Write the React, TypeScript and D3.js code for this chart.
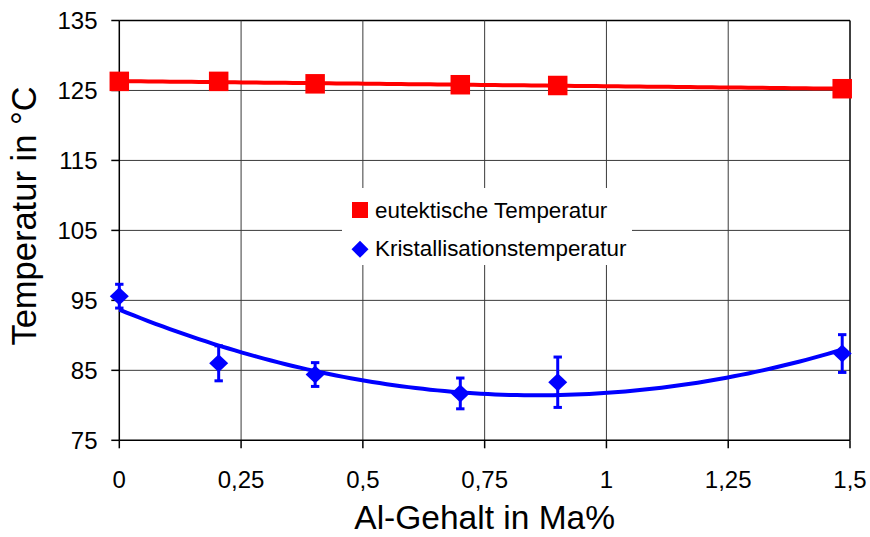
import React from "react";
import * as d3 from "d3";

const W = 870;
const H = 537;

const xTicks = [0, 0.25, 0.5, 0.75, 1, 1.25, 1.5];
const yTicks = [75, 85, 95, 105, 115, 125, 135];

const alContent = [0, 0.204, 0.402, 0.7, 0.9, 1.484];
const eutektisch = [126.3, 126.3, 125.95, 125.82, 125.71, 125.25];
const kristall = [95.6, 86.0, 84.4, 81.7, 83.3, 87.4];
const kristallErr = [1.7, 2.5, 1.7, 2.2, 3.6, 2.7];

const seriesNames = ["eutektische Temperatur", "Kristallisationstemperatur"];

const fmt = (v: number) => String(v).replace(".", ",");

// least-squares polynomial fit (Excel trendline)
function polyFit(xs: number[], ys: number[], deg: number): number[] {
  const n = deg + 1;
  const A: number[][] = [];
  for (let i = 0; i < n; i++) {
    const row: number[] = [];
    for (let j = 0; j < n; j++) row.push(d3.sum(xs, (x) => Math.pow(x, i + j)));
    row.push(d3.sum(xs, (x, k) => Math.pow(x, i) * ys[k]));
    A.push(row);
  }
  for (let i = 0; i < n; i++) {
    let p = i;
    for (let r = i + 1; r < n; r++) if (Math.abs(A[r][i]) > Math.abs(A[p][i])) p = r;
    [A[i], A[p]] = [A[p], A[i]];
    for (let r = 0; r < n; r++) {
      if (r === i) continue;
      const f = A[r][i] / A[i][i];
      for (let c = i; c <= n; c++) A[r][c] -= f * A[i][c];
    }
  }
  return A.map((row, i) => row[n] / row[i]);
}

export default function App() {
  const x = d3.scaleLinear().domain([0, 1.5]).range([119.3, 850]);
  const y = d3.scaleLinear().domain([75, 135]).range([440.3, 20.5]);

  const redCoef = polyFit(alContent, eutektisch, 1);
  const blueCoef = polyFit(alContent, kristall, 2);
  const evalP = (c: number[], v: number) => c.reduce((s, a, i) => s + a * Math.pow(v, i), 0);

  const xMin = d3.min(alContent)!;
  const xMax = d3.max(alContent)!;
  const samples = d3.range(0, 101).map((i) => xMin + ((xMax - xMin) * i) / 100);

  const line = d3
    .line<number[]>()
    .x((d) => x(d[0]))
    .y((d) => y(d[1]))
    .curve(d3.curveLinear);

  const redPath = line(samples.map((v) => [v, evalP(redCoef, v)]))!;
  const bluePath = line(samples.map((v) => [v, evalP(blueCoef, v)]))!;

  const x0 = x(0);
  const x1 = x(1.5);
  const y0 = y(75);
  const y1 = y(135);
  const font = "'Liberation Sans', Arial, sans-serif";
  const gridColor = "#3a3a3a";

  const sq = 19.5;
  const dW = 9.5;
  const dH = 9;
  const diamond = (cx: number, cy: number, w: number, h: number) =>
    `M${cx},${cy - h}L${cx + w},${cy}L${cx},${cy + h}L${cx - w},${cy}Z`;

  return (
    <svg
      width={W}
      height={H}
      style={{ position: "absolute", left: 0, top: 0, background: "#fff" }}
      fontFamily={font}
    >
      <rect x={0} y={0} width={W} height={H} fill="#fff" />
      {/* grid */}
      {yTicks.slice(1).map((t) => (
        <line key={"gy" + t} x1={x0} x2={x1} y1={y(t)} y2={y(t)} stroke={t === 135 ? "#000" : gridColor} strokeWidth={t === 135 ? 1.5 : 1} />
      ))}
      {xTicks.slice(1).map((t) => (
        <line key={"gx" + t} x1={x(t)} x2={x(t)} y1={y1} y2={y0} stroke={t === 1.5 ? "#000" : gridColor} strokeWidth={t === 1.5 ? 1.5 : 1} />
      ))}
      {/* legend background */}
      <rect x={342} y={188} width={290} height={77} fill="#fff" />
      {/* axes */}
      <line x1={x0} x2={x0} y1={y1} y2={y0} stroke="#000" strokeWidth={1.5} />
      <line x1={x0} x2={x1} y1={y0} y2={y0} stroke="#000" strokeWidth={1.5} />
      {yTicks.map((t) => (
        <g key={"ty" + t}>
          <line x1={x0 - 8} x2={x0} y1={y(t)} y2={y(t)} stroke="#000" strokeWidth={1.5} />
          <text x={97.5} y={y(t) + 8.5} textAnchor="end" fontSize={24} fill="#000">
            {t}
          </text>
        </g>
      ))}
      {xTicks.map((t) => (
        <g key={"tx" + t}>
          <line x1={x(t)} x2={x(t)} y1={y0} y2={y0 + 8} stroke="#000" strokeWidth={1.5} />
          <text x={x(t)} y={487.5} textAnchor="middle" fontSize={24} fill="#000">
            {fmt(t)}
          </text>
        </g>
      ))}
      {/* axis titles */}
      <text x={(x0 + x1) / 2} y={529} textAnchor="middle" fontSize={33.5} fill="#000">
        Al-Gehalt in Ma%
      </text>
      <text
        transform={`translate(36,${216}) rotate(-90)`}
        textAnchor="middle"
        fontSize={34.5}
        fill="#000"
      >
        Temperatur in °C
      </text>
      {/* red series */}
      <path d={redPath} fill="none" stroke="#ff0000" strokeWidth={4} />
      {alContent.map((v, i) => (
        <rect key={"r" + i} x={x(v) - sq / 2} y={y(eutektisch[i]) - sq / 2} width={sq} height={sq} fill="#ff0000" />
      ))}
      {/* blue series */}
      <path d={bluePath} fill="none" stroke="#0000ff" strokeWidth={4} />
      {alContent.map((v, i) => {
        const cx = x(v);
        const top = y(kristall[i] + kristallErr[i]);
        const bot = y(kristall[i] - kristallErr[i]);
        return (
          <g key={"b" + i} stroke="#0000ff" strokeWidth={3}>
            <line x1={cx} x2={cx} y1={top} y2={bot} />
            <line x1={cx - 4.2} x2={cx + 4.2} y1={top} y2={top} />
            <line x1={cx - 4.2} x2={cx + 4.2} y1={bot} y2={bot} />
            <path d={diamond(cx, y(kristall[i]), dW, dH)} fill="#0000ff" stroke="none" />
          </g>
        );
      })}
      {/* legend */}
      <rect x={352} y={202} width={16} height={16} fill="#ff0000" />
      <text x={375} y={217.5} fontSize={22.4} fill="#000">
        {seriesNames[0]}
      </text>
      <path d={diamond(360, 249.3, 8.5, 8.5)} fill="#0000ff" />
      <text x={375} y={256} fontSize={22.4} fill="#000">
        {seriesNames[1]}
      </text>
    </svg>
  );
}
